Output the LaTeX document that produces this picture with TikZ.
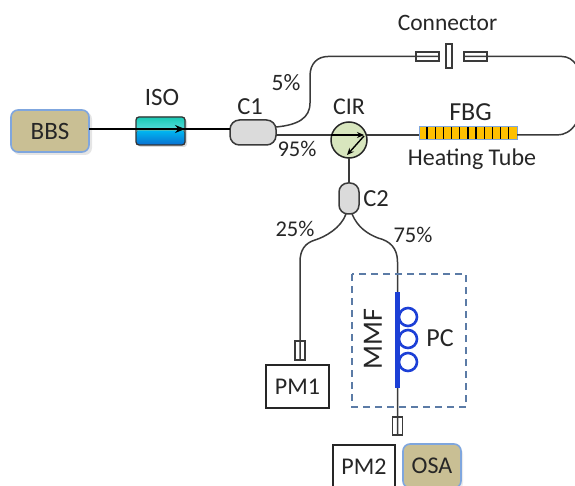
\documentclass[tikz,border=0pt]{standalone}
\usepackage{fontspec}
\setmainfont{Carlito}
\usetikzlibrary{arrows.meta,calc}
\definecolor{khaki}{HTML}{C9BF94}
\definecolor{edgeblue}{HTML}{7FA6DE}
\definecolor{ink}{HTML}{262626}
\definecolor{fiber}{HTML}{3A3A3A}
\definecolor{pcblue}{HTML}{1C3FD6}
\definecolor{dashblue}{HTML}{5B7BA6}
\definecolor{cirgreen}{HTML}{D8E6BE}
\definecolor{gold}{HTML}{FFC000}
\definecolor{isoa}{HTML}{19C9B4}
\definecolor{isob}{HTML}{5CDDE0}
\definecolor{isoc}{HTML}{00B5F0}
\definecolor{isod}{HTML}{0A6FD0}
\newcommand{\fsz}[1]{\fontsize{#1}{#1}\selectfont}
\tikzset{
  x=1pt,y=-1pt,
  every node/.style={text=ink,font=\fsz{23.5},inner sep=0pt,outer sep=0pt},
  lab/.style={},
  sz/.style n args={2}{minimum width=#1pt,minimum height=#2pt},
  fib/.style={draw=fiber,line width=1.5pt},
  src/.style={draw=edgeblue,line width=1.6pt,fill=khaki,rounded corners=7pt,anchor=center},
  meter/.style={draw=ink,line width=1.4pt,fill=white,anchor=center},
  ferrule/.style={draw=fiber,line width=1.2pt,fill=white,anchor=center},
  coupler/.style={draw=fiber,line width=1.5pt,fill=black!14,rounded corners=9.5pt,anchor=center},
  loopc/.style={circle,draw=pcblue,line width=2.6pt,minimum size=18pt},
}
\begin{document}
\begin{tikzpicture}
\useasboundingbox (0,0) rectangle (575,486);
\clip (0,0) rectangle (575,486);
% soft shadows
\fill[black!10,rounded corners=7pt] (13,112) rectangle (92,155);
\fill[black!14,rounded corners=3pt] (138,119) rectangle (187,147);
\fill[black!8,rounded corners=7pt] (405,447) rectangle (463,490);
% sources and instruments
\node[src,sz={78}{42},font=\fsz{25}] (bbs) at (50,131) {BBS};
\node[src,sz={58}{44},font=\fsz{24}] (osa) at (432,466) {OSA};
\node[meter,sz={63}{43},font=\fsz{24}] (pm1) at (297.5,386.5) {PM1};
\node[meter,sz={62}{44},font=\fsz{24}] (pm2) at (364,467) {PM2};
% isolator
\node[draw=none,sz={49}{28}] (iso) at (160.5,131) {};
\fill[top color=isoa,bottom color=isob,rounded corners=2.5pt] (iso.north west) rectangle (iso.east);
\fill[top color=isoc,bottom color=isod,rounded corners=2.5pt] (iso.west) rectangle (iso.south east);
\draw[black!80,line width=1.3pt,rounded corners=3pt] (iso.north west) rectangle (iso.south east);
% couplers, circulator
\node[coupler,sz={46}{25}] (c1) at (253,132.5) {};
\node[coupler,sz={20}{31},rounded corners=9pt] (c2) at (349,198.5) {};
\node[circle,draw=ink,line width=1.5pt,fill=cirgreen,minimum size=36pt] (cir) at (349,140) {};
% FBG
\node[draw=edgeblue,line width=1pt,fill=gold,sz={98}{13}] (fbg) at (468,133.5) {};
\foreach \i in {1,...,11}
  \draw[black,line width=1.4pt] ($(fbg.west)+(\i*8.15,-6)$) -- ++(0,12);
% connector
\node[ferrule,sz={23}{9}] (conl) at (427.5,56.5) {};
\node[ferrule,sz={6}{24}] (conm) at (449,56) {};
\node[ferrule,sz={23}{9}] (conr) at (475.5,56.5) {};
\node[ferrule,sz={10}{19}] (fer1) at (300,350.5) {};
\node[ferrule,sz={10}{18}] (fer2) at (397.5,426) {};
% fibres
\draw[line width=2.8pt,black] (bbs.east |- 0,129) -- (c1.west |- 0,129);
\draw[-{Stealth[length=10pt,width=8pt]},black,line width=1.6pt] (155,129) -- (185,129);
\draw[fib] (c1.east |- 0,127) .. controls (298,125) and (310,118) .. (310,103) -- (310,76) .. controls (310,63) and (318,56.5) .. (328,56.5) -- (conl.east);
\draw[fib] (c1.east |- 0,135) -- (cir.west |- 0,135);
\draw[fib] (cir.east |- 0,135) -- (fbg.west |- 0,135);
\draw[fib] (conr.west) -- (562,56.5) .. controls (573,56.5) and (583,68) .. (583,92) .. controls (583,120) and (572,135) .. (557,135) -- (fbg.east |- 0,135);
\draw[fib] (cir.south) -- (c2.north);
\draw[fib] ($(c2.south)+(-3,0)$) .. controls (341,228) and (325,237) .. (315,240) .. controls (305,243) and (300,250) .. (300,262) -- (fer1.south);
\draw[fib] ($(c2.south)+(3,0)$) .. controls (358,228) and (368,234) .. (378,238) .. controls (390,241) and (397.5,248) .. (397.5,262) -- (fer2.south);
% circulator arrows
\draw[-{Stealth[length=7pt,width=6pt]},black,line width=1.4pt] (331,135) -- (364,135);
\draw[-{Stealth[length=7pt,width=6pt]},black,line width=1.4pt] (364,136) -- (347,155);
% polarization controller
\draw[draw=dashblue,line width=1.3pt,dash pattern=on 7pt off 5pt] (352,274) rectangle (466,407);
\node[loopc] (p1) at (408,317) {};
\node[loopc] (p2) at (408,339) {};
\node[loopc] (p3) at (408,362) {};
\coordinate (mmft) at (397.5,292);
\coordinate (mmfb) at (397.5,388);
\draw[pcblue,line width=4.5pt] (mmft) -- (mmfb);
% labels
\node[lab] (t1) at (447.5,23) {Connector};
\node[lab] (t2) at (286,83) {5\%};
\node[lab,font=\fsz{24.5}] (t3) at (250,107) {C1};
\node[lab,font=\fsz{25}] (t4) at (162,97) {ISO};
\node[lab,font=\fsz{24}] (t5) at (349,107) {CIR};
\node[lab,font=\fsz{26}] (t6) at (470.5,112) {FBG};
\node[lab,font=\fsz{24}] (t7) at (472,159) {Heating Tube};
\node[lab,font=\fsz{22.5}] (t8) at (297,149) {95\%};
\node[lab,font=\fsz{24.5}] (t9) at (376,199) {C2};
\node[lab,font=\fsz{22.5}] (t10) at (295,229) {25\%};
\node[lab,font=\fsz{22.5}] (t11) at (413,235) {75\%};
\node[lab,font=\fsz{26}] (t12) at (440,338) {PC};
\node[lab,rotate=90,font=\fsz{28}] (t13) at (373,339) {MMF};
\end{tikzpicture}
\end{document}
